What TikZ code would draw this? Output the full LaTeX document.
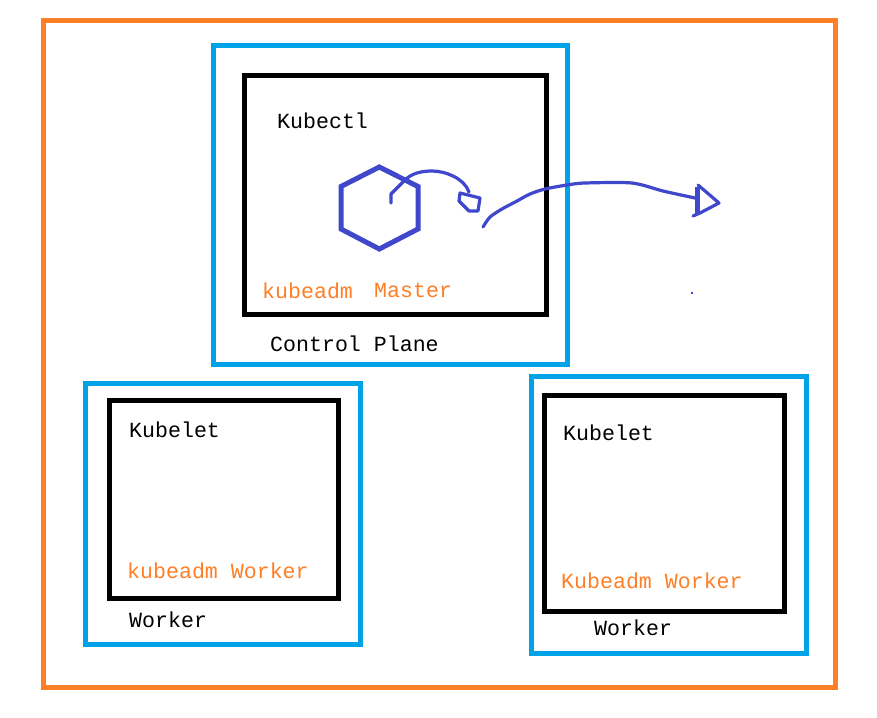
\documentclass[tikz,border=0pt]{standalone}
\usepackage{fontspec}
\setmainfont{Liberation Mono}
\definecolor{korange}{HTML}{FF7F27}
\definecolor{kblue}{HTML}{00A2E8}
\definecolor{kink}{HTML}{3F48CC}
\tikzset{
  outerbox/.style={draw=korange,line width=5pt,rectangle,inner sep=0pt},
  hostbox/.style={draw=kblue,line width=5pt,rectangle,inner sep=0pt},
  innerbox/.style={draw=black,line width=5pt,rectangle,inner sep=0pt},
  lbl/.style={inner sep=0pt,font=\fontsize{21.6}{21.6}\selectfont,text=black,anchor=base west},
  olbl/.style={lbl,text=korange},
  ink/.style={draw=kink,line width=3.2pt,line cap=round,line join=round},
}
\begin{document}
\begin{tikzpicture}[x=1pt,y=-1pt]
\useasboundingbox[fill=white] (0,0) rectangle (877,717);
\node[outerbox,minimum width=792pt,minimum height=667pt] (outer) at (439.5,354) {};
\node[hostbox,minimum width=354pt,minimum height=319pt] (cp) at (390.5,205) {};
\node[innerbox,minimum width=302pt,minimum height=239pt] (master) at (395.5,195) {};
\node[hostbox,minimum width=275pt,minimum height=261pt] (w1) at (223,514) {};
\node[innerbox,minimum width=229pt,minimum height=198pt] (w1in) at (224,499.5) {};
\node[hostbox,minimum width=275pt,minimum height=277pt] (w2) at (669,515) {};
\node[innerbox,minimum width=240pt,minimum height=216pt] (w2in) at (664.5,503.5) {};
\node[lbl] (t1) at (277,128.3) {Kubectl};
\node[olbl] (t2) at (262,298.3) {kubeadm};
\node[olbl] (t3) at (374,297.3) {Master};
\node[lbl] (t4) at (270,351.3) {Control Plane};
\node[lbl] (t5) at (129,437.3) {Kubelet};
\node[olbl] (t6) at (127,578.3) {kubeadm Worker};
\node[lbl] (t7) at (129,627.3) {Worker};
\node[lbl] (t8) at (563,440.3) {Kubelet};
\node[olbl] (t9) at (561,588.3) {Kubeadm Worker};
\node[lbl] (t10) at (594,635.3) {Worker};
\draw[ink,line width=5pt,line join=miter] (379.3,167) -- (418,186.5) -- (418,229) -- (379.3,249) -- (341,229) -- (341,186.5) -- cycle;
\draw[ink] (391,203) -- (391,194) -- (405,180) .. controls (412,173) and (422,171) .. (432,171) .. controls (445,171) and (464,178) .. (469,192);
\draw[ink] (460,193) -- (480,198) -- (478,211) -- (469,211) -- (459,201) -- cycle;
\draw[ink] plot[smooth,tension=.45] coordinates {(483,227) (490,217) (502,209) (517,201) (530,194) (545,189) (567,185) (585,183) (632,183) (663,191) (695,198)};
\draw[ink] (698,185) -- (719,203) -- (700,213) -- (693,216);
\draw[ink,line width=5pt,line cap=butt] (697,187) -- (697,215);
\fill[kink] (690.8,292.2) rectangle (693.2,294.2);
\end{tikzpicture}
\end{document}
